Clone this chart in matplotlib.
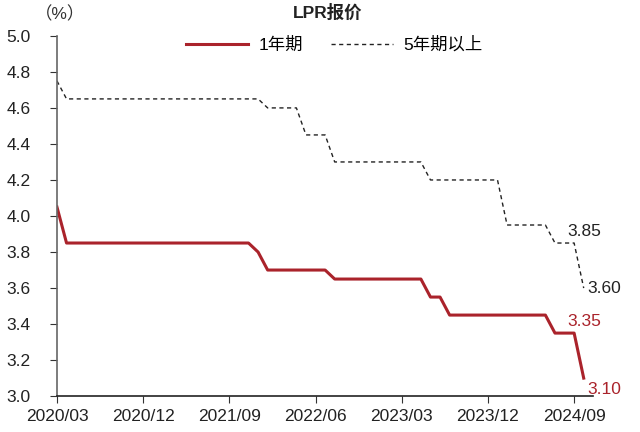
import matplotlib.pyplot as plt

plt.rcParams['font.family'] = ['Liberation Sans', 'Noto Sans CJK SC', 'DejaVu Sans']

# monthly, 2020/03 .. 2024/10
months = ["2020/03", "2020/04", "2020/05", "2020/06", "2020/07", "2020/08", "2020/09", "2020/10",
          "2020/11", "2020/12", "2021/01", "2021/02", "2021/03", "2021/04", "2021/05", "2021/06",
          "2021/07", "2021/08", "2021/09", "2021/10", "2021/11", "2021/12", "2022/01", "2022/02",
          "2022/03", "2022/04", "2022/05", "2022/06", "2022/07", "2022/08", "2022/09", "2022/10",
          "2022/11", "2022/12", "2023/01", "2023/02", "2023/03", "2023/04", "2023/05", "2023/06",
          "2023/07", "2023/08", "2023/09", "2023/10", "2023/11", "2023/12", "2024/01", "2024/02",
          "2024/03", "2024/04", "2024/05", "2024/06", "2024/07", "2024/08", "2024/09", "2024/10"]

lpr_1y = [4.05, 3.85, 3.85, 3.85, 3.85, 3.85, 3.85, 3.85, 3.85, 3.85, 3.85, 3.85, 3.85, 3.85,
          3.85, 3.85, 3.85, 3.85, 3.85, 3.85, 3.85, 3.80, 3.70, 3.70, 3.70, 3.70, 3.70, 3.70,
          3.70, 3.65, 3.65, 3.65, 3.65, 3.65, 3.65, 3.65, 3.65, 3.65, 3.65, 3.55, 3.55, 3.45,
          3.45, 3.45, 3.45, 3.45, 3.45, 3.45, 3.45, 3.45, 3.45, 3.45, 3.35, 3.35, 3.35, 3.10]

lpr_5y = [4.75, 4.65, 4.65, 4.65, 4.65, 4.65, 4.65, 4.65, 4.65, 4.65, 4.65, 4.65, 4.65, 4.65,
          4.65, 4.65, 4.65, 4.65, 4.65, 4.65, 4.65, 4.65, 4.60, 4.60, 4.60, 4.60, 4.45, 4.45,
          4.45, 4.30, 4.30, 4.30, 4.30, 4.30, 4.30, 4.30, 4.30, 4.30, 4.30, 4.20, 4.20, 4.20,
          4.20, 4.20, 4.20, 4.20, 4.20, 3.95, 3.95, 3.95, 3.95, 3.95, 3.85, 3.85, 3.85, 3.60]

xtick_labels = ["2020/03", "2020/12", "2021/09", "2022/06", "2023/03", "2023/12", "2024/09"]

red = "#aa232b"
fs = 12.5

fig = plt.figure(figsize=(6.4, 4.32), dpi=100)
ax = fig.add_axes([0.089, 0.083, 0.838, 0.834])

x = list(range(len(months)))
ax.plot(x, lpr_1y, color=red, lw=2.2, label="1年期")
ax.plot(x, lpr_5y, color="#222222", lw=1.0, ls=(0, (3, 2.5)), label="5年期以上")

ax.set_xlim(0, len(months))
ax.set_ylim(3.0, 5.0)
ax.set_yticks([3.0 + 0.2 * i for i in range(11)])
ax.set_yticklabels([f"{3.0 + 0.2 * i:.1f}" for i in range(11)])
ax.set_xticks([months.index(m) for m in xtick_labels])
ax.set_xticklabels(xtick_labels)
ax.tick_params(axis="both", labelsize=fs, direction="out", length=5, colors="#333333",
               labelcolor="#222222")
ax.tick_params(axis="y", pad=14)
ax.tick_params(axis="x", pad=4)

for s in ["top", "right"]:
    ax.spines[s].set_visible(False)
ax.spines["left"].set_color("#666666")
ax.spines["left"].set_linewidth(1.2)
ax.spines["bottom"].set_color("#222222")
ax.spines["bottom"].set_linewidth(1.2)

# end labels
ax.text(x[-3] + 0.3, lpr_5y[-3] + 0.02, "3.85", fontsize=fs, color="#222222", va="bottom")
ax.text(x[-1] + 0.4, lpr_5y[-1], "3.60", fontsize=fs, color="#222222", va="center")
ax.text(x[-3] + 0.3, lpr_1y[-3] + 0.02, "3.35", fontsize=fs, color=red, va="bottom")
ax.text(x[-1] + 0.4, lpr_1y[-1] - 0.02, "3.10", fontsize=fs, color=red, va="top")

ax.legend(loc="center", bbox_to_anchor=(0.517, 0.975), ncol=2, frameon=False,
          fontsize=fs, handlelength=3.6, handletextpad=0.6, columnspacing=1.6)

fig.text(0.512, 0.972, "LPR报价", ha="center", va="center", fontsize=fs, fontweight="bold",
         color="#222222")
fig.text(0.094, 0.967, "（%）", ha="center", va="center", fontsize=fs, color="#333333")

fig.savefig("out.png", dpi=100)
